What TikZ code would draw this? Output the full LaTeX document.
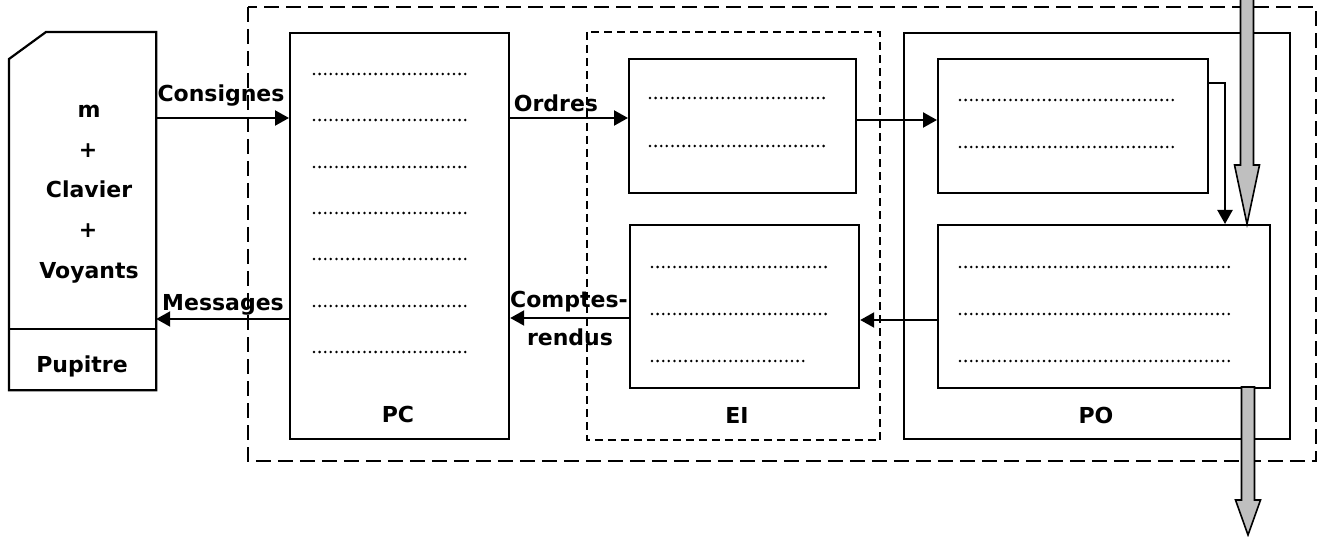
\documentclass[tikz,border=0pt]{standalone}
\usepackage{fontspec}
\setmainfont{DejaVu Sans}
\usetikzlibrary{arrows.meta}
\begin{document}
\begin{tikzpicture}[x=1pt,y=-1pt,
  box/.style={draw,line width=2.2pt,rectangle,inner sep=0pt,anchor=north west},
  lbl/.style={font=\fontsize{22}{24}\selectfont\bfseries,anchor=base,inner sep=0pt},
  dots/.style={line width=2.8pt,line cap=round,dash pattern=on 0pt off 5.6pt},
  arr/.style={line width=2.2pt,-{Triangle[length=14pt,width=15pt]}},
  bigarr/.style={fill=gray!50,draw=black,line width=1.6pt,line join=miter},
  outerdash/.style={line width=2pt,dash pattern=on 15pt off 7pt},
  innerdash/.style={line width=2pt,dash pattern=on 8pt off 5pt}]
\useasboundingbox (0,0) rectangle (1322,537);
% system boundary
\node[box,draw=none,minimum width=1066pt,minimum height=452pt] (sys) at (248,7) {};
\draw[outerdash] (sys.north west) rectangle (sys.south east);
% pupitre
\node[box,draw=none,minimum width=145pt,minimum height=356pt] (pup) at (9,32) {};
\draw[line width=2.2pt] ([yshift=-27pt]pup.north west) -- ([xshift=37pt]pup.north west) -- (pup.north east) -- (pup.south east) -- (pup.south west) -- cycle;
\coordinate (pupdiv) at (9,329);
\draw[line width=2.2pt] (pupdiv) -- (pupdiv -| pup.east);
\node[lbl] (tm) at (89,118) {m};
\node[lbl] (tp1) at (88,158) {+};
\node[lbl] (tcl) at (89,198) {Clavier};
\node[lbl] (tp2) at (88,238) {+};
\node[lbl] (tvo) at (89,279) {Voyants};
\node[lbl] (tpu) at (82,372) {Pupitre};
% PC
\node[box,minimum width=219pt,minimum height=406pt] (pc) at (289,32) {};
\foreach \yy in {74,120,167,213,259,306,352} \draw[dots] (314,\yy) -- (467,\yy);
\node[lbl] (tpc) at (398,422) {PC};
% EI
\node[box,draw=none,minimum width=291pt,minimum height=406pt] (ei) at (587,32) {};
\draw[innerdash] (ei.north west) rectangle (ei.south east);
\node[box,minimum width=227pt,minimum height=134pt] (eit) at (628,58) {};
\node[box,minimum width=229pt,minimum height=163pt] (eib) at (629,224) {};
\foreach \yy in {98,146} \draw[dots] (650,\yy) -- (828,\yy);
\foreach \yy in {267,314} \draw[dots] (652,\yy) -- (827,\yy);
\draw[dots] (652,361) -- (806,361);
\node[lbl] (tei) at (737,423) {EI};
% PO
\node[box,minimum width=386pt,minimum height=406pt] (po) at (903,32) {};
\node[box,minimum width=270pt,minimum height=134pt] (pot) at (937,58) {};
\node[box,minimum width=332pt,minimum height=163pt] (pob) at (937,224) {};
\foreach \yy in {100,147} \draw[dots] (960,\yy) -- (1173,\yy);
\foreach \yy in {267,314,361} \draw[dots] (960,\yy) -- (1233,\yy);
\node[lbl] (tpo) at (1096,423) {PO};
% connectors
\draw[arr] (pup.east |- 0,118) -- (pc.west |- 0,118);
\node[lbl] (tcons) at (221,102) {Consignes};
\draw[arr] (pc.west |- 0,319) -- (pup.east |- 0,319);
\node[lbl] (tmes) at (223,310) {Messages};
\draw[arr] (pc.east |- 0,118) -- (eit.west |- 0,118);
\node[lbl] (tord) at (556,112) {Ordres};
\draw[arr] (eit.east |- 0,120) -- (pot.west |- 0,120);
\draw[arr] (pot.east |- 0,83) -| (pob.north -| 1225,0);
\draw[arr] (pob.west |- 0,320) -- (eib.east |- 0,320);
\draw[arr] (eib.west |- 0,318) -- (pc.east |- 0,318);
\node[lbl] (tcr1) at (569,308) {Comptes-};
\node[lbl] (tcr2) at (570,345) {rendus};
% gray flows
\coordinate (gtip1) at (pob.north -| 1247,0);
\filldraw[bigarr] (1240.5,-5) -- (1240.5,165) -- (1234.5,165) -- (gtip1) -- (1259.5,165) -- (1253.5,165) -- (1253.5,-5) -- cycle;
\coordinate (gtip2) at (1248,535);
\filldraw[bigarr] (1241.5,387) -- (1241.5,500) -- (1235.5,500) -- (gtip2) -- (1260.5,500) -- (1254.5,500) -- (1254.5,387) -- cycle;
\end{tikzpicture}
\end{document}
